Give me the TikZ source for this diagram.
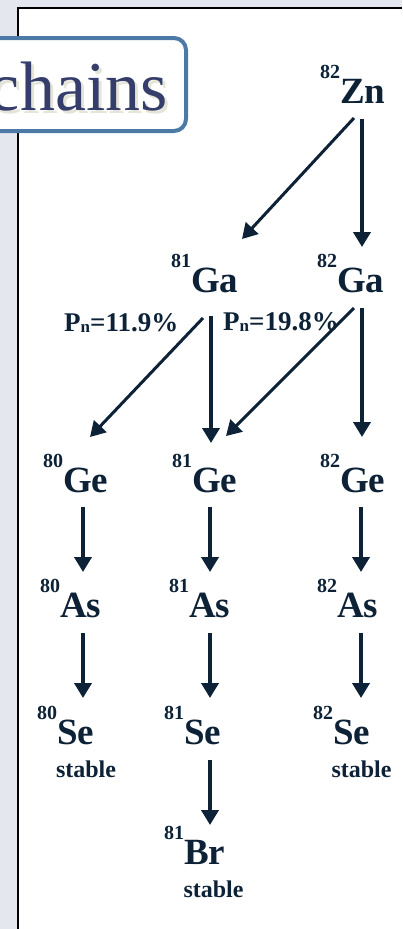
\documentclass[tikz,border=0pt]{standalone}
\usepackage{fontspec}
\setmainfont{Liberation Serif}
\usetikzlibrary{arrows.meta}
\definecolor{ink}{HTML}{0D2236}
\definecolor{pagegrey}{HTML}{E4E8EE}
\definecolor{boxblue}{HTML}{4D79A7}
\definecolor{titleink}{HTML}{353D6B}
\definecolor{shadowc}{HTML}{E4E4D8}
\newcommand{\nucl}[2]{\raisebox{25pt}{\fontsize{20}{20}\selectfont #1}\fontsize{37}{37}\selectfont #2}
\tikzset{
  nuc/.style={anchor=base west, inner sep=0pt, font=\bfseries, text=ink},
  stab/.style={anchor=base, inner sep=0pt, font=\bfseries\fontsize{24}{24}\selectfont, text=ink},
  pn/.style={anchor=base west, inner sep=0pt, font=\bfseries\fontsize{27}{27}\selectfont, text=ink},
  varr/.style={draw=ink, line width=4.2pt, -{Triangle[length=15pt,width=17pt]}},
  darr/.style={draw=ink, line width=3pt, -{Triangle[length=15pt,width=17pt]}},
  titlebox/.style={draw=boxblue, line width=4pt, rounded corners=12pt, fill=white, inner sep=0pt}
}
\begin{document}
\begin{tikzpicture}[x=1pt,y=-1pt]
\useasboundingbox (0,0) rectangle (402,929);
% page background
\fill[pagegrey] (0,0) rectangle (402,929);
\fill[white] (17.7,8.3) rectangle (402,929);
\draw[black, line width=2pt] (17.7,929) -- (17.7,8.3) -- (402,8.3);
% title box
\node[titlebox, minimum width=212pt, minimum height=93pt] (title) at (80,84.5) {};
\node[anchor=base east, inner sep=0pt, text=shadowc, font=\fontsize{70}{70}\selectfont] (titleshadow) at (171,113) {chains};
\node[anchor=base east, inner sep=0pt, text=titleink, font=\fontsize{70}{70}\selectfont] (titletext) at (168,110) {chains};
% nuclides
\node[nuc] (zn82) at (320,103) {\nucl{82}{Zn}};
\node[nuc] (ga81) at (171,292) {\nucl{81}{Ga}};
\node[nuc] (ga82) at (317,292) {\nucl{82}{Ga}};
\node[nuc] (ge80) at (43,492) {\nucl{80}{Ge}};
\node[nuc] (ge81) at (172,492) {\nucl{81}{Ge}};
\node[nuc] (ge82) at (320,492) {\nucl{82}{Ge}};
\node[nuc] (as80) at (40,617) {\nucl{80}{As}};
\node[nuc] (as81) at (169,617) {\nucl{81}{As}};
\node[nuc] (as82) at (317,617) {\nucl{82}{As}};
\node[nuc] (se80) at (37,744) {\nucl{80}{Se}};
\node[nuc] (se81) at (164,744) {\nucl{81}{Se}};
\node[nuc] (se82) at (313,744) {\nucl{82}{Se}};
\node[nuc] (br81) at (164,864) {\nucl{81}{Br}};
% stable labels
\node[stab] (st80) at (86,777) {stable};
\node[stab] (st82) at (361.5,777) {stable};
\node[stab] (st81) at (213.5,897) {stable};
% branching labels
\node[pn] (pn1) at (64,331) {P\raisebox{-1pt}{\fontsize{17}{17}\selectfont n}=11.9\%};
\node[pn] (pn2) at (223,330) {P\raisebox{-1pt}{\fontsize{17}{17}\selectfont n}=19.8\%};
% connector end points
\coordinate (zn82-d) at (354,118);   \coordinate (ga81-in) at (242,239);
\coordinate (zn82-v) at (362,119);   \coordinate (ga82-in) at (362,247);
\coordinate (ga81-d) at (203,318);   \coordinate (ge80-in) at (90,437);
\coordinate (ga81-v) at (211,316);   \coordinate (ge81-in) at (211,443);
\coordinate (ga82-d) at (354,308);   \coordinate (ge81-in2) at (226,436);
\coordinate (ga82-v) at (362,308);   \coordinate (ge82-in) at (362,437);
\coordinate (ge80-out) at (83,507);  \coordinate (as80-in) at (83,572);
\coordinate (ge81-out) at (210,507); \coordinate (as81-in) at (210,572);
\coordinate (ge82-out) at (361,507); \coordinate (as82-in) at (361,572);
\coordinate (as80-out) at (83,633);  \coordinate (se80-in) at (83,698);
\coordinate (as81-out) at (210,633); \coordinate (se81-in) at (210,698);
\coordinate (as82-out) at (361,633); \coordinate (se82-in) at (361,698);
\coordinate (se81-out) at (210,760); \coordinate (br81-in) at (210,825);
% connectors
\draw[darr] (zn82-d) -- (ga81-in);
\draw[varr] (zn82-v) -- (ga82-in);
\draw[darr] (ga81-d) -- (ge80-in);
\draw[varr] (ga81-v) -- (ge81-in);
\draw[darr] (ga82-d) -- (ge81-in2);
\draw[varr] (ga82-v) -- (ge82-in);
\draw[varr] (ge80-out) -- (as80-in);
\draw[varr] (ge81-out) -- (as81-in);
\draw[varr] (ge82-out) -- (as82-in);
\draw[varr] (as80-out) -- (se80-in);
\draw[varr] (as81-out) -- (se81-in);
\draw[varr] (as82-out) -- (se82-in);
\draw[varr] (se81-out) -- (br81-in);
\end{tikzpicture}
\end{document}
